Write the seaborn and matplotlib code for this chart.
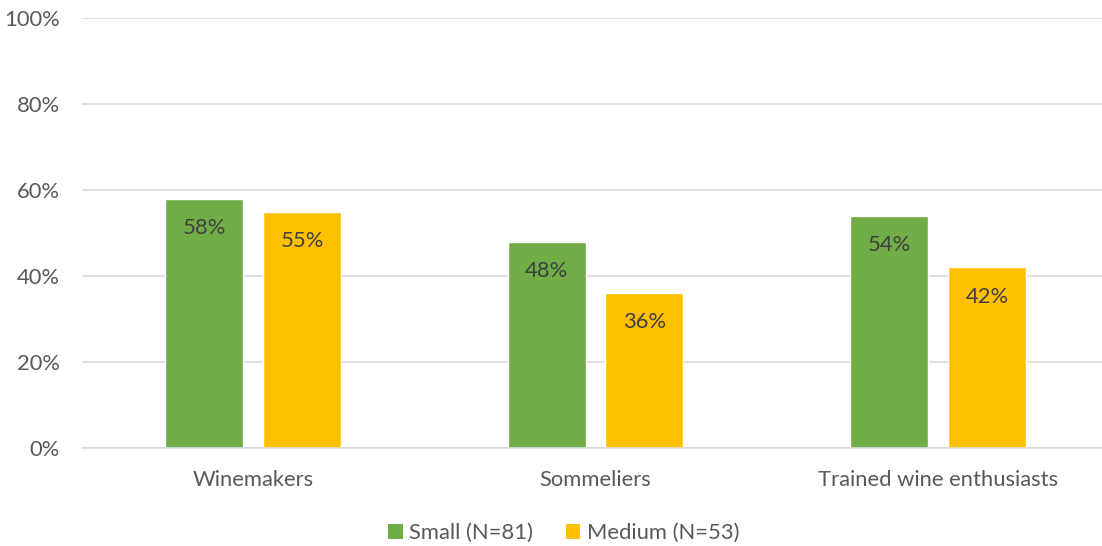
import matplotlib
matplotlib.use("Agg")
import matplotlib.pyplot as plt
from matplotlib.patches import Patch
from matplotlib.ticker import FuncFormatter
import seaborn as sns
import pandas as pd

categories = ["Winemakers", "Sommeliers", "Trained wine enthusiasts"]
series_names = ["Small (N=81)", "Medium (N=53)"]
small_values = [58, 48, 54]
medium_values = [55, 36, 42]
y_ticks = [0, 20, 40, 60, 80, 100]

colors = ["#70AD47", "#FFC000"]
tick_color = "#595959"
label_color = "#404040"
grid_color = "#D9D9D9"

df = pd.DataFrame({
    "category": categories * 2,
    "group": [series_names[0]] * 3 + [series_names[1]] * 3,
    "value": small_values + medium_values,
})

sns.set_theme(style="white")
plt.rcParams["font.family"] = ["Lato", "DejaVu Sans"]
fs = 15.8

fig = plt.figure(figsize=(11.02, 5.46), dpi=100)
ax = fig.add_axes([81.75 / 1102, 1 - 448 / 546, 1027.5 / 1102, 430 / 546])

sns.barplot(data=df, x="category", y="value", hue="group", order=categories,
            hue_order=series_names, palette=colors, width=0.572, gap=0.204,
            saturation=1, ax=ax, legend=False)

for container in ax.containers:
    for bar in container:
        h = bar.get_height()
        ax.annotate(f"{h:.0f}%", (bar.get_x() + bar.get_width() / 2, h),
                    xytext=(0, -21), textcoords="offset points",
                    ha="center", va="center", fontsize=fs, color=label_color)

ax.set_ylim(0, 100)
ax.set_yticks(y_ticks)
ax.yaxis.set_major_formatter(FuncFormatter(lambda v, _: f"{v:.0f}%"))
ax.set_xlim(-0.5, len(categories) - 0.5)
ax.set_xlabel("")
ax.set_ylabel("")
ax.grid(axis="y", color=grid_color, linewidth=1.2)
ax.set_axisbelow(True)
for side in ["top", "right", "left"]:
    ax.spines[side].set_visible(False)
ax.spines["bottom"].set_color(grid_color)
ax.spines["bottom"].set_linewidth(1.2)
ax.tick_params(axis="both", length=0, labelsize=fs, colors=tick_color)
ax.tick_params(axis="y", pad=16)
ax.tick_params(axis="x", pad=16)

handles = [Patch(facecolor=c, edgecolor="none") for c in colors]
fig.legend(handles, series_names, loc="center", bbox_to_anchor=(564 / 1102, 1 - 533 / 546),
           ncol=2, frameon=False, fontsize=fs, labelcolor=tick_color,
           handlelength=0.65, handleheight=0.65, handletextpad=0.3, columnspacing=1.5)

fig.savefig("out.png", dpi=100)
